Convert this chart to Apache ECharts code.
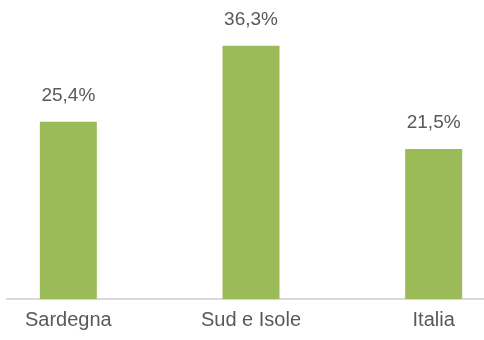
<!DOCTYPE html>
<html>
<head>
<meta charset="utf-8">
<script src="https://cdn.jsdelivr.net/npm/echarts@6/dist/echarts.min.js"></script>
<style>
html,body{margin:0;padding:0;background:#fff;overflow:hidden;width:484px;height:340px;position:relative}
#c{position:absolute;left:-23px;top:0;width:548px;height:340px}
</style>
</head>
<body>
<div id="c"></div>
<script>
var categories = ['Sardegna', 'Sud e Isole', 'Italia'];
var values = [25.4, 36.3, 21.5];

var chart = echarts.init(document.getElementById('c'), null, {renderer: 'canvas'});
chart.setOption({
  animation: false,
  backgroundColor: '#ffffff',
  grid: [
    {left: 0, right: 0, top: 20, bottom: 41},
    {left: 30, right: 41, top: 20, bottom: 41}
  ],
  xAxis: [
    {
      type: 'category', gridIndex: 0, data: categories,
      axisLine: {show: false}, axisTick: {show: false},
      axisLabel: {color: '#595959', fontSize: 20, fontFamily: 'Liberation Sans', margin: 11}
    },
    {
      type: 'value', gridIndex: 1, min: 0, max: 1,
      axisLine: {show: true, onZero: false, lineStyle: {color: '#d9d9d9', width: 2}},
      axisTick: {show: false}, axisLabel: {show: false}, splitLine: {show: false}
    }
  ],
  yAxis: [
    {type: 'value', gridIndex: 0, min: 0, max: 40, show: false},
    {type: 'value', gridIndex: 1, min: 0, max: 1, show: false}
  ],
  series: [{
    type: 'bar', xAxisIndex: 0, yAxisIndex: 0,
    data: values, barWidth: 57,
    itemStyle: {color: '#9bbb59'},
    label: {
      show: true, position: 'top', distance: 17,
      color: '#595959', fontSize: 19, fontFamily: 'Liberation Sans',
      formatter: function (p) { return String(p.value.toFixed(1)).replace('.', ',') + '%'; }
    }
  }]
});
</script>
</body>
</html>
